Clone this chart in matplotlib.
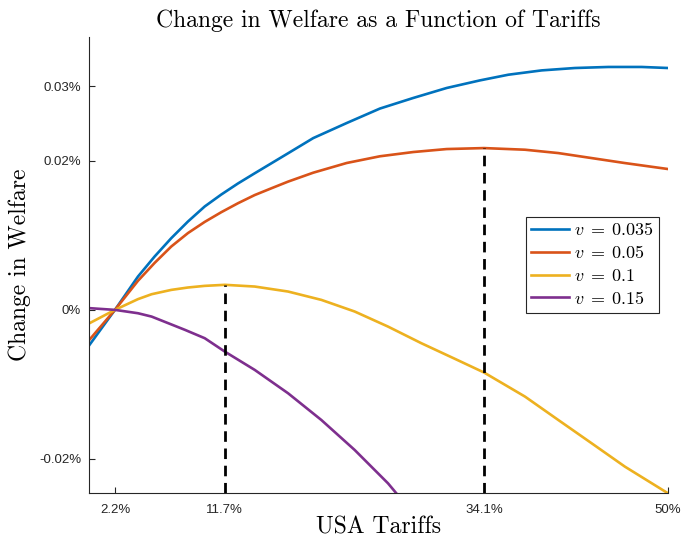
import matplotlib
matplotlib.use("Agg")
import matplotlib.pyplot as plt

plt.rcParams["mathtext.fontset"] = "cm"
plt.rcParams["font.family"] = "Liberation Sans"

# values (x: tariff %, y: welfare change %)
x_blue = [0, 2.2, 4.19, 5.63, 7.07, 8.51, 9.96, 11.39, 12.83, 14.28, 15.71, 17.16, 19.34, 22.23,
          25.1, 27.98, 30.87, 33.75, 36.2, 39.08, 41.96, 44.84, 47.73, 50]
y_blue = [-0.0047, 0.0, 0.00447, 0.00716, 0.00962, 0.01185, 0.01387, 0.01547, 0.01695, 0.01832,
          0.01965, 0.0210, 0.02304, 0.02506, 0.0270, 0.02842, 0.02976, 0.03078, 0.03154, 0.03212,
          0.03244, 0.03258, 0.03258, 0.03244]

x_orange = [0, 2.2, 4.19, 5.63, 7.07, 8.51, 9.96, 11.39, 12.83, 14.28, 15.71, 17.16, 19.34, 22.23,
            25.1, 27.98, 30.87, 34.1, 37.64, 40.52, 43.4, 46.28, 50]
y_orange = [-0.0040, 0.0, 0.0039, 0.0063, 0.0085, 0.0103, 0.0118, 0.0131, 0.0143, 0.0154,
            0.0163, 0.0172, 0.0184, 0.0197, 0.0206, 0.02117, 0.02157, 0.0217, 0.02148, 0.02103,
            0.02036, 0.01969, 0.01889]

x_yellow = [0, 2.2, 4.19, 5.37, 7.07, 8.51, 9.96, 11.7, 14.28, 17.16, 20.04, 22.92, 25.8, 28.68,
            31.56, 34.1, 37.64, 40.52, 43.4, 46.28, 50]
y_yellow = [-0.00179, 0.0, 0.00144, 0.0021, 0.00268, 0.0030, 0.00322, 0.00336, 0.00313, 0.00246,
            0.00134, -0.00022, -0.00224, -0.00447, -0.00655, -0.0084, -0.01163, -0.01477,
            -0.01789, -0.02103, -0.0246]

x_purple = [0, 2.2, 4.19, 5.37, 7.07, 8.25, 9.96, 11.7, 14.28, 17.16, 20.04, 22.92, 25.8, 26.52]
y_purple = [0.00023, 0.0, -0.00045, -0.0009, -0.00195, -0.00268, -0.0038, -0.0056, -0.00805,
            -0.01118, -0.01477, -0.01879, -0.02326, -0.0246]

labels = [r"$v\;=\;0.035$", r"$v\;=\;0.05$", r"$v\;=\;0.1$", r"$v\;=\;0.15$"]
colors = ["#0072BD", "#D95319", "#EDB120", "#7E2F8E"]

opt_x = [11.7, 34.1]
opt_y = [0.00336, 0.0217]

xticks = [2.2, 11.7, 34.1, 50]
xticklabels = ["2.2%", "11.7%", "34.1%", "50%"]
yticks = [-0.02, 0, 0.02, 0.03]
yticklabels = ["-0.02%", "0%", "0.02%", "0.03%"]

ylim = (-0.0246, 0.0366)

fig = plt.figure(figsize=(6.81, 5.4), dpi=100)
ax = fig.add_axes([0.1314, 0.0865, 0.8495, 0.845])

series = [(x_blue, y_blue), (x_orange, y_orange), (x_yellow, y_yellow), (x_purple, y_purple)]
for (xs, ys), lab, c in zip(series, labels, colors):
    ax.plot(xs, ys, color=c, lw=1.9, label=lab, solid_joinstyle="round")

for xo, yo in zip(opt_x, opt_y):
    ax.plot([xo, xo], [ylim[0], yo], color="black", lw=2.0, dashes=(3.8, 2.4))

ax.set_xlim(0, 50)
ax.set_ylim(*ylim)
ax.set_xticks(xticks)
ax.set_xticklabels(xticklabels)
ax.set_yticks(yticks)
ax.set_yticklabels(yticklabels)
ax.tick_params(direction="in", length=4, width=0.8, labelsize=9.5, colors="#262626", pad=6)
ax.tick_params(axis="x", pad=8)

for side in ["top", "right"]:
    ax.spines[side].set_visible(False)
for side in ["left", "bottom"]:
    ax.spines[side].set_color("#262626")
    ax.spines[side].set_linewidth(0.8)

ax.set_title("Change in Welfare as a Function of Tariffs", fontfamily="cmr10", fontsize=17, pad=7)
ax.set_xlabel("USA Tariffs", fontfamily="cmr10", fontsize=17, labelpad=0)
ax.set_ylabel("Change in Welfare", fontfamily="cmr10", fontsize=17, labelpad=6)

leg = ax.legend(loc="upper left", bbox_to_anchor=(0.7546, 0.6055), borderaxespad=0,
                fancybox=False, fontsize=13, handlelength=2.1, handletextpad=0.25,
                labelspacing=0.32, borderpad=0.3, framealpha=1)
leg.get_frame().set_edgecolor("#262626")
leg.get_frame().set_linewidth(0.8)

fig.savefig("out.png", dpi=100)
